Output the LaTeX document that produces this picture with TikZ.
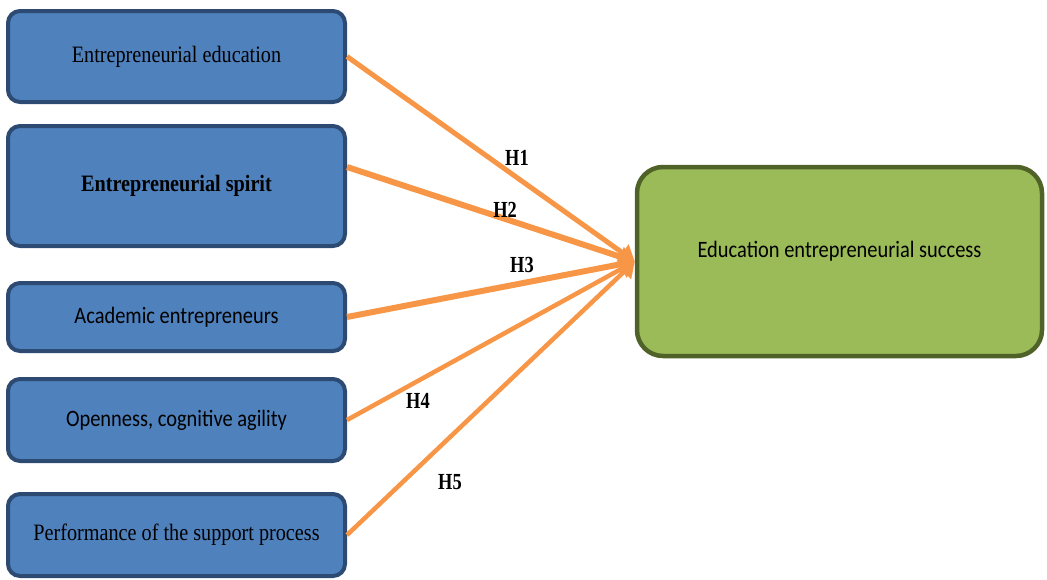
\documentclass[tikz,border=0pt]{standalone}
\usepackage{fontspec}
\setmainfont{Liberation Serif}[FakeStretch=0.86]
\newfontfamily\calfont{Carlito}[FakeStretch=0.87]
\newfontfamily\hfont{Liberation Serif}[FakeStretch=0.8]
\usetikzlibrary{arrows.meta}
\definecolor{boxblue}{HTML}{4F81BD}
\definecolor{boxblueline}{HTML}{2C4A72}
\definecolor{boxgreen}{HTML}{9BBB59}
\definecolor{boxgreenline}{HTML}{4F6228}
\definecolor{arrorange}{HTML}{F79646}
\tikzset{
  bluebox/.style={draw=boxblueline, fill=boxblue, line width=4pt, rounded corners=12pt,
    minimum width=337pt, inner sep=0pt, font=\fontsize{23.5}{28}\selectfont, text=black},
  greenbox/.style={draw=boxgreenline, fill=boxgreen, line width=4.5pt, rounded corners=26pt,
    minimum width=405pt, minimum height=189pt, inner sep=0pt},
  conn/.style={draw=arrorange, line width=5pt, -{Triangle[length=15pt,width=20pt]}},
  hlab/.style={font=\hfont\bfseries\fontsize{23}{26}\selectfont, text=black, inner sep=0pt}
}
\begin{document}
\begin{tikzpicture}[x=1pt,y=-1pt]
\useasboundingbox (0,0) rectangle (1047,579);
\node[bluebox, minimum height=91pt] (b1) at (176.5,56.5) {Entrepreneurial education};
\node[bluebox, minimum height=120pt] (b2) at (176.5,186) {\bfseries Entrepreneurial spirit};
\node[bluebox, minimum height=68pt] (b3) at (176.5,317) {\calfont Academic entrepreneurs};
\node[bluebox, minimum height=82pt] (b4) at (176.5,420) {\calfont Openness, cognitive agility};
\node[bluebox, minimum height=82pt] (b5) at (176.5,535) {Performance of the support process};
\node[greenbox] (g) at (839.5,261.5) {};
\node[font=\calfont\fontsize{23.5}{28}\selectfont, inner sep=0pt] (gt) at (839.5,251) {Education entrepreneurial success};
\draw[conn] (b1.east) -- (g.west);
\draw[conn, line width=6pt] ([yshift=19pt]b2.east) -- (g.west);
\draw[conn, line width=6pt] (b3.east) -- (g.west);
\draw[conn, line width=4.5pt] (b4.east) -- (g.west);
\draw[conn, line width=4.5pt] (b5.east) -- (g.west);
\node[hlab] (h1) at (517,158) {H1};
\node[hlab] (h2) at (505,210) {H2};
\node[hlab] (h3) at (522,265) {H3};
\node[hlab] (h4) at (418,401) {H4};
\node[hlab] (h5) at (450,482) {H5};
\end{tikzpicture}
\end{document}
